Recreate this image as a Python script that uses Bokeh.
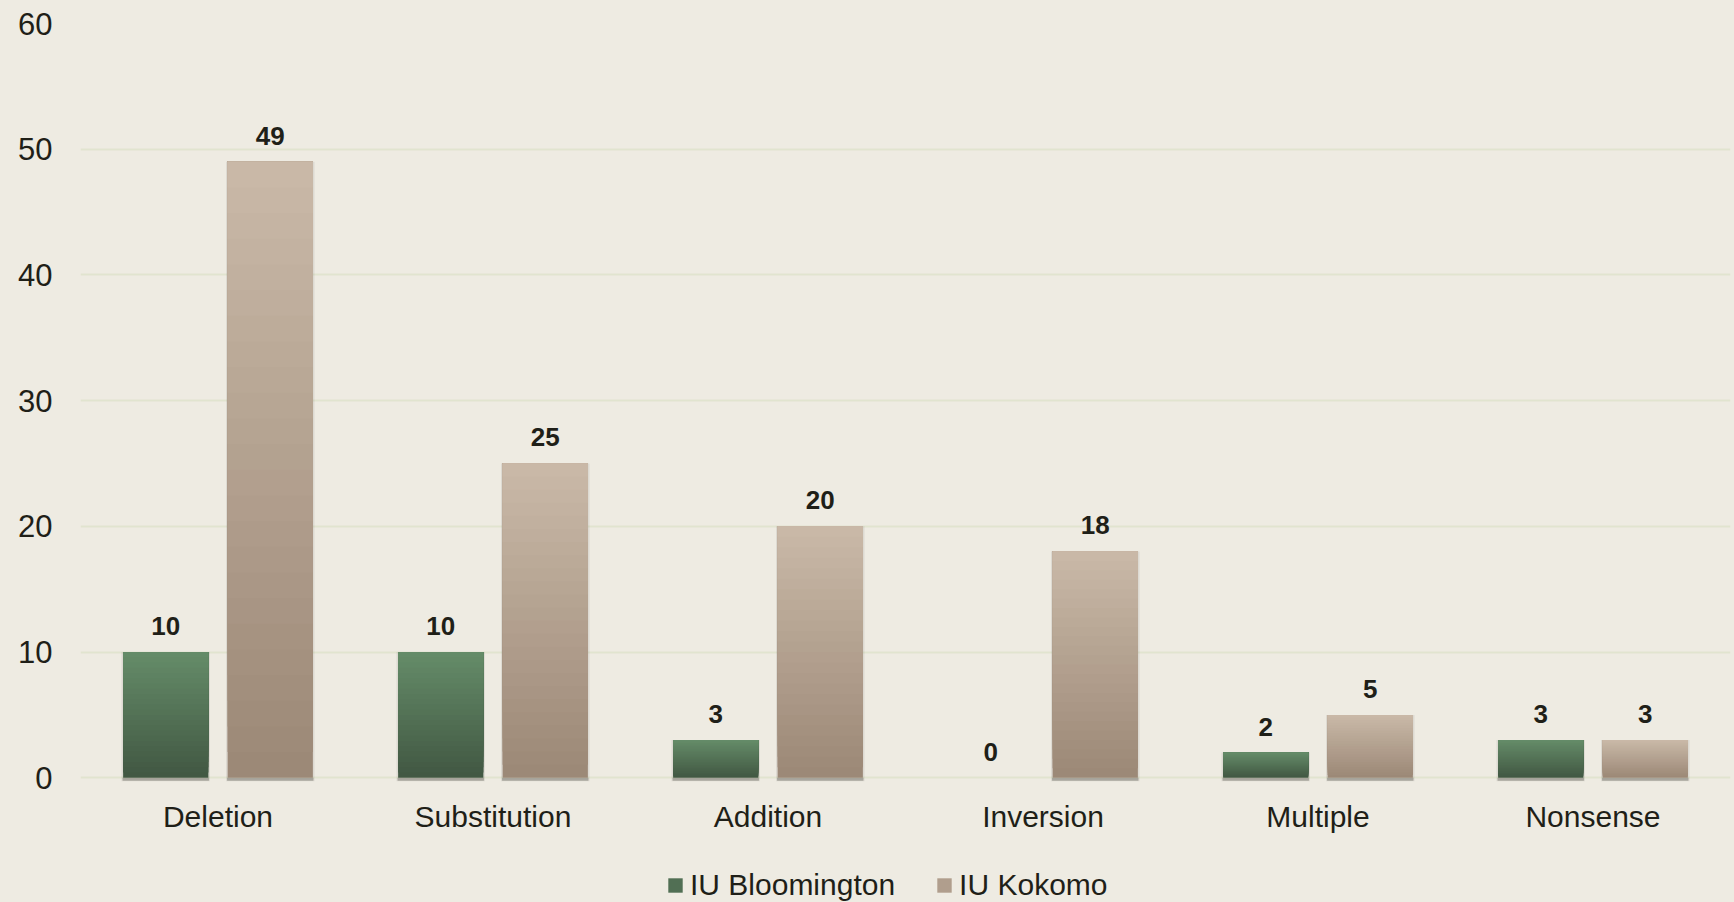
from bokeh.plotting import figure
from bokeh.layouts import column
from bokeh.models import (FactorRange, Range1d, FixedTicker, Legend, LegendItem,
                          ColumnDataSource, GlobalInlineStyleSheet)
from bokeh.transform import dodge
from bokeh.core.properties import value
from bokeh.embed import file_html
from bokeh.resources import INLINE

categories = ["Deletion", "Substitution", "Addition", "Inversion", "Multiple", "Nonsense"]
bloomington = [10, 10, 3, 0, 2, 3]
kokomo = [49, 25, 20, 18, 5, 3]
series_names = ["IU Bloomington", "IU Kokomo"]
y_ticks = [0, 10, 20, 30, 40, 50, 60]

FONT = "Liberation Sans"
TEXT = "#1f1f18"
BG = "#eeebe2"

# gradient endpoints (top, bottom)
green_top, green_bot = (100, 139, 104), (66, 88, 67)
brown_top, brown_bot = (201, 184, 167), (156, 137, 119)

page_css = GlobalInlineStyleSheet(css="html, body { background-color: %s; overflow: hidden; }" % BG)

p = figure(x_range=FactorRange(*categories), y_range=Range1d(-0.3, 60),
           width=1734, height=850, output_backend="svg", toolbar_location=None,
           min_border_left=80, min_border_right=4, min_border_top=23, min_border_bottom=69,
           background_fill_color=BG, border_fill_color=BG, stylesheets=[page_css])
p.outline_line_color = None
p.xgrid.grid_line_color = None
p.ygrid.grid_line_color = "#e1e4cf"
p.ygrid.grid_line_width = 2
p.yaxis.ticker = FixedTicker(ticks=y_ticks)

for ax in (p.xaxis[0], p.yaxis[0]):
    ax.axis_line_color = None
    ax.major_tick_line_color = None
    ax.minor_tick_line_color = None
    ax.major_label_text_font = FONT
    ax.major_label_text_color = TEXT
p.yaxis.major_label_text_font_size = "31px"
p.yaxis.major_label_standoff = 22
p.xaxis.major_label_text_font_size = "30px"
p.xaxis.major_label_standoff = 12

OFF = 0.19
W = 0.31
N = 24

def hexc(c):
    return "#%02x%02x%02x" % tuple(int(round(v)) for v in c)

legend_colors = []
for vals, off, top_c, bot_c in [(bloomington, -OFF, green_top, green_bot),
                                (kokomo, OFF, brown_top, brown_bot)]:
    src = ColumnDataSource(dict(cat=categories, val=vals, lab=[str(v) for v in vals],
                                sh=[0.07 if v > 0 else 0.0 for v in vals],
                                sb=[0.55 if v > 0 else 0.0 for v in vals]))
    xd = dodge("cat", off, range=p.x_range)
    # soft shadow
    p.vbar(x=xd, top="val", bottom=-0.3, width=W + 0.012, source=src,
           fill_color="#000000", fill_alpha="sh", line_color=None)
    p.vbar(x=xd, top=0.0, bottom=-0.25, width=W + 0.004, source=src,
           fill_color="#7d7b72", fill_alpha="sb", line_color=None)
    # gradient (nested layers, dark bottom to light top)
    for k in range(N):
        t = k / (N - 1)
        col = hexc([b + (a - b) * t for a, b in zip(top_c, bot_c)])
        bsrc = ColumnDataSource(dict(cat=categories, val=vals,
                                     bot=[v * k / N for v in vals]))
        p.vbar(x=dodge("cat", off, range=p.x_range), top="val", bottom="bot",
               width=W, source=bsrc, fill_color=col, line_color=None)
    legend_colors.append(hexc([b + (a - b) * 0.45 for a, b in zip(top_c, bot_c)]))
    p.text(x=dodge("cat", off, range=p.x_range), y="val", text="lab", source=src,
           y_offset=-26, text_align="center", text_baseline="middle",
           text_font=value(FONT), text_font_size="26px", text_font_style="bold",
           text_color=TEXT)

# legend strip below the chart (its frame is aligned with the chart's frame)
lg = figure(width=1734, height=52, output_backend="svg", toolbar_location=None,
            x_range=Range1d(0, 1), y_range=Range1d(0, 1),
            min_border=0, background_fill_color=BG, border_fill_color=BG)
lg.outline_line_color = None
lg.axis.visible = False
lg.grid.visible = False
items = []
for name, col in zip(series_names, legend_colors):
    # swatch renderer kept outside the visible range; only its legend glyph shows
    r = lg.vbar(x=[-5], top=[-5], bottom=[-6], width=0.1, fill_color=col, line_color=None)
    items.append(LegendItem(label=name, renderers=[r]))
legend = Legend(items=items, location=(586, 0), orientation="horizontal",
                glyph_width=18, glyph_height=18, label_standoff=6, spacing=40,
                padding=0, margin=0, border_line_color=None, background_fill_alpha=0,
                label_text_font=FONT, label_text_font_size="30px", label_text_color=TEXT)
lg.add_layout(legend, "center")

layout = column(p, lg, spacing=0)
open("out.html", "w").write(file_html(layout, INLINE))
